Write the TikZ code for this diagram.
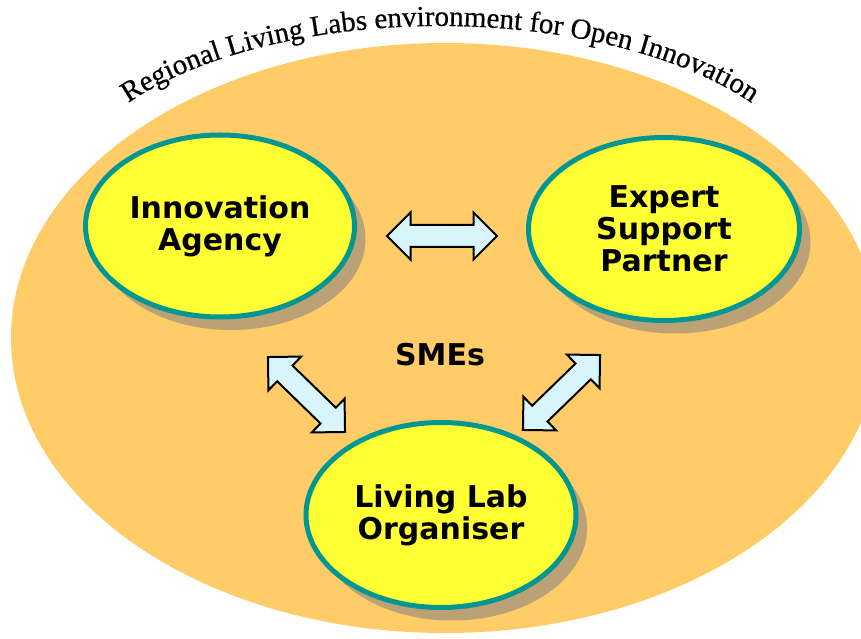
\documentclass[tikz,border=0pt]{standalone}
\usepackage{fontspec}
\newfontfamily\labelfont{DejaVu Sans}
\newfontfamily\arcfont{Liberation Serif}[FakeBold=0.6]
\usetikzlibrary{shapes.geometric,shapes.arrows,shadows,decorations.text}

\definecolor{labzone}{RGB}{255,204,104}
\definecolor{partyfill}{RGB}{255,255,51}
\definecolor{partyedge}{RGB}{0,150,145}
\definecolor{partyshade}{RGB}{187,162,118}
\definecolor{linkfill}{RGB}{215,245,250}

\begin{document}
\begin{tikzpicture}[x=1pt,y=1pt]
\tikzstyle{party}=[draw=partyedge, line width=5pt, fill=partyfill, ellipse,
    align=center, inner sep=0pt,
    font=\labelfont\bfseries\fontsize{30}{32}\selectfont,
    drop shadow={shadow xshift=11pt, shadow yshift=-13pt, fill=partyshade, opacity=1}]
\tikzstyle{link}=[draw, line width=2pt, fill=linkfill, double arrow,
    double arrow head extend=12.5pt, inner xsep=0pt, inner ysep=10pt]

\useasboundingbox (0,0) rectangle (861,638);
\clip (0,0) rectangle (861,638);

% regional environment
\fill[labzone] (445,300) ellipse [x radius=434, y radius=295];
\path[decorate, decoration={text along path, text align=center,
    text={|\arcfont\fontsize{29}{29}\selectfont|Regional Living Labs environment for Open Innovation}}]
    (440,432) ++(165:380 and 180) arc [start angle=165, end angle=15, x radius=380, y radius=180];

\node[party, minimum width=269pt, minimum height=182pt] (IA) at (220,412) {Innovation\\Agency};
\node[party, minimum width=271pt, minimum height=183pt] (ESP) at (664,409) {Expert\\Support\\Partner};
\node[party, minimum width=270pt, minimum height=185pt] (LLO) at (441,123) {Living Lab\\Organiser};

\node[font=\labelfont\bfseries\fontsize{30}{32}\selectfont] (SME) at (440,283) {SMEs};

\node[link, minimum height=110pt] (AE) at (442,402) {};
\node[link, minimum height=107.5pt, rotate=-44.2] (AL) at (306.5,243.5) {};
\node[link, minimum height=107.5pt, rotate=44.2] (EL) at (561.5,245.5) {};
\end{tikzpicture}
\end{document}
